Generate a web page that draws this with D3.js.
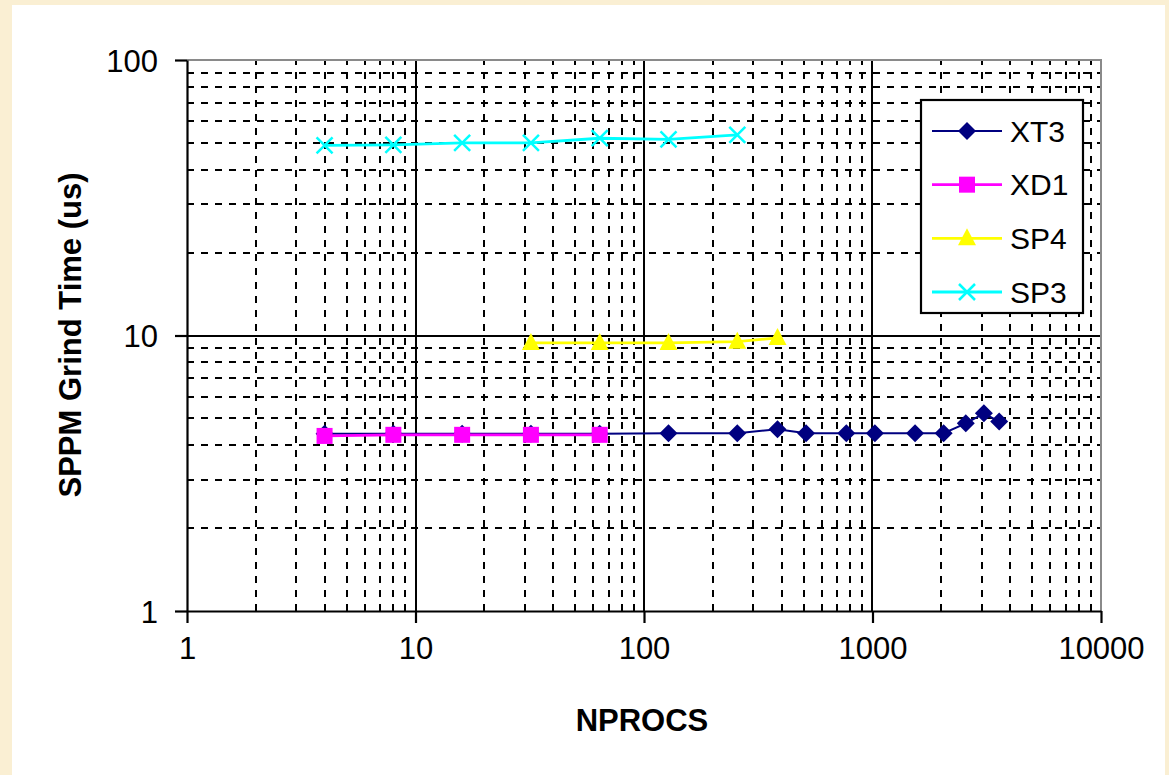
<!DOCTYPE html>
<html>
<head>
<meta charset="utf-8">
<script src="https://cdn.jsdelivr.net/npm/d3@7"></script>
<style>
  html, body { margin: 0; padding: 0; background: #faefd3; }
  svg { display: block; }
  text { font-family: "Liberation Sans", Arial, sans-serif; fill: #000; }
</style>
</head>
<body>
<svg id="chart" width="1169" height="775"></svg>
<script>
// ---- data ----
const xTickLabels = [1, 10, 100, 1000, 10000];
const yTickLabels = [1, 10, 100];
const seriesNames = ["XT3", "XD1", "SP4", "SP3"];

const xt3X = [4, 8, 16, 32, 64, 128, 256, 384, 512, 768, 1024, 1536, 2048, 2560, 3072, 3584];
const xt3Y = [4.4, 4.4, 4.4, 4.4, 4.4, 4.42, 4.42, 4.57, 4.42, 4.42, 4.42, 4.42, 4.42, 4.8, 5.22, 4.87];
const xd1X = [4, 8, 16, 32, 64];
const xd1Y = [4.32, 4.36, 4.36, 4.36, 4.36];
const sp4X = [32, 64, 128, 256, 384];
const sp4Y = [9.4, 9.4, 9.4, 9.5, 9.8];
const sp3X = [4, 8, 16, 32, 64, 128, 256];
const sp3Y = [49, 49.2, 50, 50, 52, 51.5, 53.5];

// ---- setup ----
const svg = d3.select("#chart");
svg.append("rect").attr("x", 12).attr("y", 5).attr("width", 1153).attr("height", 770).attr("fill", "#ffffff");

const L = 187, R = 1101, T = 60, B = 611;
const x = d3.scaleLog().domain([1, 10000]).range([L, R]);
const y = d3.scaleLog().domain([1, 100]).range([B, T]);

const minorX = [];
for (let k = 0; k < 4; k++) for (let m = 2; m <= 9; m++) minorX.push(m * Math.pow(10, k));
const minorY = [];
for (let k = 0; k < 2; k++) for (let m = 2; m <= 9; m++) minorY.push(m * Math.pow(10, k));

const grid = svg.append("g");
grid.selectAll(".mx").data(minorX).enter().append("line")
  .attr("x1", d => Math.round(x(d))).attr("x2", d => Math.round(x(d)))
  .attr("y1", B).attr("y2", T)
  .attr("stroke", "#000").attr("stroke-width", 2).attr("stroke-dasharray", "7,7");
grid.selectAll(".my").data(minorY).enter().append("line")
  .attr("y1", d => Math.round(y(d))).attr("y2", d => Math.round(y(d)))
  .attr("x1", L).attr("x2", R)
  .attr("stroke", "#000").attr("stroke-width", 2).attr("stroke-dasharray", "7,7");
grid.selectAll(".Mx").data([10, 100, 1000]).enter().append("line")
  .attr("x1", d => Math.round(x(d))).attr("x2", d => Math.round(x(d)))
  .attr("y1", B).attr("y2", T)
  .attr("stroke", "#000").attr("stroke-width", 2);
grid.selectAll(".My").data([10]).enter().append("line")
  .attr("y1", d => Math.round(y(d))).attr("y2", d => Math.round(y(d)))
  .attr("x1", L).attr("x2", R)
  .attr("stroke", "#000").attr("stroke-width", 2);

svg.append("path")
  .attr("d", `M${L},${T}H${R}V${B}`)
  .attr("fill", "none").attr("stroke", "#8a8a8a").attr("stroke-width", 2);

const xAxis = d3.axisBottom(x).tickValues(xTickLabels).tickFormat(d3.format("d")).tickSizeInner(12).tickSizeOuter(0).tickPadding(14);
const yAxis = d3.axisLeft(y).tickValues(yTickLabels).tickFormat(d3.format("d")).tickSizeInner(12).tickSizeOuter(0).tickPadding(17);

const gx = svg.append("g").attr("transform", `translate(0,${B})`).call(xAxis);
const gy = svg.append("g").attr("transform", `translate(${L},0)`).call(yAxis);
[gx, gy].forEach(g => {
  g.select(".domain").attr("stroke", "#000").attr("stroke-width", 2.2);
  g.selectAll(".tick line").attr("stroke", "#000").attr("stroke-width", 2.2);
  g.selectAll(".tick text").attr("font-size", 31).attr("font-family", "'Liberation Sans', Arial, sans-serif").attr("fill", "#111");
});
gy.selectAll(".tick text").attr("dy", "0.36em");

svg.append("text").attr("x", 642).attr("y", 731).attr("text-anchor", "middle")
  .attr("font-size", 31).attr("font-weight", "bold").text("NPROCS");
svg.append("text").attr("transform", "translate(81,335) rotate(-90)").attr("text-anchor", "middle")
  .attr("font-size", 31).attr("font-weight", "bold").text("SPPM Grind Time (us)");

// ---- series ----
const series = [
  { name: seriesNames[0], xs: xt3X, ys: xt3Y, color: "#000080", shape: "diamond", lw: 2 },
  { name: seriesNames[1], xs: xd1X, ys: xd1Y, color: "#ff00ff", shape: "square", lw: 2.8 },
  { name: seriesNames[2], xs: sp4X, ys: sp4Y, color: "#ffff00", shape: "triangle", lw: 2.8 },
  { name: seriesNames[3], xs: sp3X, ys: sp3Y, color: "#00ffff", shape: "cross", lw: 2.8 }
];

function drawMarker(g, shape, color, cx, cy) {
  if (shape === "diamond") {
    g.append("path").attr("d", `M${cx},${cy - 9}L${cx + 9},${cy}L${cx},${cy + 9}L${cx - 9},${cy}Z`).attr("fill", color);
  } else if (shape === "square") {
    g.append("rect").attr("x", cx - 8).attr("y", cy - 8).attr("width", 16).attr("height", 16).attr("fill", color);
  } else if (shape === "triangle") {
    g.append("path").attr("d", `M${cx},${cy - 10}L${cx + 9},${cy + 7}L${cx - 9},${cy + 7}Z`).attr("fill", color);
  } else if (shape === "cross") {
    g.append("path").attr("d", `M${cx - 8},${cy - 8}L${cx + 8},${cy + 8}M${cx + 8},${cy - 8}L${cx - 8},${cy + 8}`)
      .attr("stroke", color).attr("stroke-width", 2.5).attr("fill", "none");
  }
}

const line = d3.line().x(d => x(d[0])).y(d => y(d[1]));
series.forEach(s => {
  const g = svg.append("g");
  const pts = s.xs.map((v, i) => [v, s.ys[i]]);
  g.append("path").datum(pts).attr("d", line).attr("fill", "none").attr("stroke", s.color).attr("stroke-width", s.lw);
  pts.forEach(p => drawMarker(g, s.shape, s.color, x(p[0]), y(p[1])));
});

// ---- legend ----
const lg = svg.append("g");
lg.append("rect").attr("x", 921).attr("y", 100).attr("width", 162).attr("height", 213)
  .attr("fill", "#fff").attr("stroke", "#000").attr("stroke-width", 2.2);
const legendY = d3.scalePoint().domain(seriesNames).range([131, 292]);
series.forEach(s => {
  const cy = legendY(s.name);
  lg.append("line").attr("x1", 932).attr("x2", 1002).attr("y1", cy).attr("y2", cy)
    .attr("stroke", s.color).attr("stroke-width", s.lw);
  drawMarker(lg, s.shape, s.color, 967, cy);
  lg.append("text").attr("x", 1010).attr("y", cy).attr("dy", "0.36em")
    .attr("font-size", 30).attr("fill", "#111").text(s.name);
});
</script>
</body>
</html>
